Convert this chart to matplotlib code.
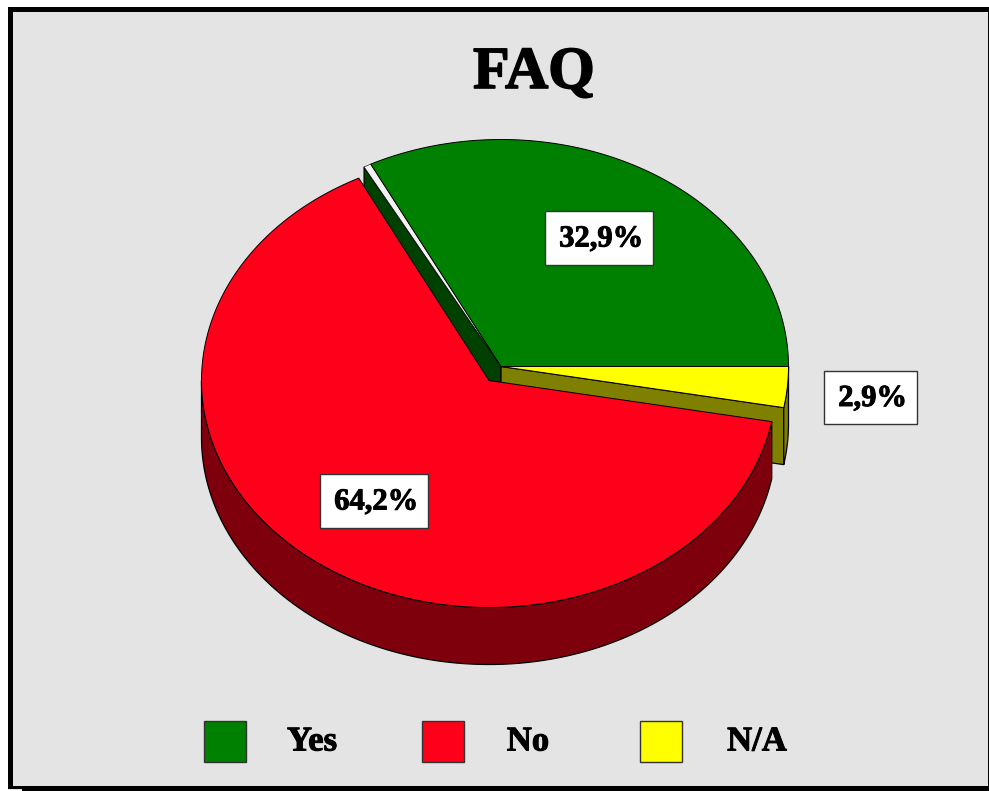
import numpy as np
import matplotlib
matplotlib.use('Agg')
import matplotlib.pyplot as plt
from matplotlib.patches import Polygon, Rectangle
import matplotlib.patheffects as pe

# chart data
categories = ['Yes', 'No', 'N/A']
values = [32.9, 64.2, 2.9]
value_labels = ['32,9%', '64,2%', '2,9%']
title = 'FAQ'

# colours
top_colors = ['#008000', '#ff001a', '#ffff00']
side_colors = ['#004000', '#7f000d', '#808000']
bg = '#e4e4e4'
font = 'Liberation Serif'

# pie projection in pixels
rx, ry = 287.5, 227
depth = 57
center_back = (501, 366.5)    # green and yellow slices
center_front = (489, 380.5)  # red slice pulled out
gap = 1.5  # degrees of light sliver beside the green face

# slice angles from the values, counter clockwise from east
angles = np.cumsum([0] + values) / sum(values) * 360


def rim(center, a0, a1, n=200):
    t = np.radians(np.linspace(a0, a1, n))
    return np.column_stack([center[0] + rx * np.cos(t), center[1] - ry * np.sin(t)])


def face(ax, center, a0, a1, color):
    pts = np.vstack([[center], rim(center, a0, a1)])
    ax.add_patch(Polygon(pts, closed=True, fc=color, ec='black', lw=0.7))


def outer_wall(ax, center, a0, a1, color):
    r = rim(center, a0, a1)
    low = r[::-1] + [0, depth]
    ax.add_patch(Polygon(np.vstack([r, low]), closed=True, fc=color, ec='black', lw=0.9))


def cut_wall(ax, center, a, color):
    p = rim(center, a, a, 1)[0]
    pts = [center, p, p + [0, depth], (center[0], center[1] + depth)]
    ax.add_patch(Polygon(pts, closed=True, fc=color, ec='black', lw=0.9))


fig = plt.figure(figsize=(9.89, 7.91), dpi=100, facecolor='white')
ax = fig.add_axes([0, 0, 1, 1])
ax.set_xlim(0, 989)
ax.set_ylim(791, 0)
ax.axis('off')

# panel and frame
ax.add_patch(Rectangle((8, 7), 980, 783, fc=bg, ec='none'))
ax.add_patch(Rectangle((8, 7), 981, 4.5, fc='black', ec='none'))
ax.add_patch(Rectangle((8, 7), 4.5, 781, fc='black', ec='none'))
ax.add_patch(Rectangle((8, 786), 981, 2.5, fc='black', ec='none'))
ax.add_patch(Rectangle((22, 788), 967, 3, fc='black', ec='none'))
ax.add_patch(Rectangle((987.7, 7), 1.3, 784, fc='black', ec='none'))

# back slices: green and yellow
cut_wall(ax, center_back, angles[1], side_colors[0])
cut_wall(ax, center_back, angles[2], side_colors[2])
outer_wall(ax, center_back, angles[2], angles[3], side_colors[2])

sliver = np.vstack([[center_back], rim(center_back, angles[1] - gap, angles[1], 5)])
ax.add_patch(Polygon(sliver, closed=True, fc='#f2f2f2', ec='black', lw=0.4))
face(ax, center_back, angles[0], angles[1] - gap, top_colors[0])
face(ax, center_back, angles[2], angles[3], top_colors[2])

# front slice: red
outer_wall(ax, center_front, 180, angles[2], side_colors[1])
face(ax, center_front, angles[1] - gap, angles[2], top_colors[1])

# value boxes
boxes = [(545, 211, 108, 54), (320, 474, 108, 54), (824, 371, 93, 53)]
heavy = [pe.withStroke(linewidth=0.7, foreground='black')]
for b, txt in zip(boxes, value_labels):
    ax.add_patch(Rectangle(b[:2], b[2], b[3], fc='white', ec='#333333', lw=1.0))
    ax.text(b[0] + b[2] / 2 + 2, b[1] + b[3] / 2 + 1, txt, family=font, weight='bold', fontsize=22,
            ha='center', va='center', color='black', path_effects=heavy)

# title
ax.text(534, 74, title, family=font, weight='bold', fontsize=43, ha='center', va='center',
        color='black', path_effects=[pe.withStroke(linewidth=1.2, foreground='black')])

# legend
swatch_x = [204, 422, 640]
text_x = [312, 528, 757]
for sx, tx, c, name in zip(swatch_x, text_x, top_colors, categories):
    ax.add_patch(Rectangle((sx, 721), 42, 41, fc=c, ec='#333333', lw=1.0))
    ax.text(tx, 742, name, family=font, weight='bold', fontsize=25, ha='center', va='center',
            color='black', path_effects=heavy)

fig.savefig('out.png', dpi=100, facecolor='white')
